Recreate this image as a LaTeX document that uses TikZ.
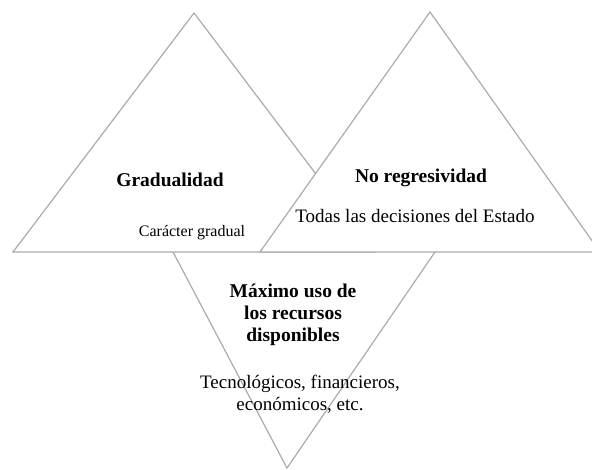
\documentclass[tikz,border=0pt]{standalone}
\usepackage{fontspec}
\setmainfont{Liberation Serif}
\definecolor{edgegray}{HTML}{ABABAB}
\tikzset{
  tri/.style={draw=edgegray,line width=1.2pt,line join=miter},
  headtext/.style={font=\bfseries\fontsize{19.5}{22}\selectfont},
  bodytext/.style={font=\fontsize{19}{22}\selectfont},
  smalltext/.style={font=\fontsize{16}{19}\selectfont}
}
\begin{document}
\begin{tikzpicture}[x=1pt,y=-1pt]
  \useasboundingbox (0,0) rectangle (592,470);

  % corners of the three triangles
  \coordinate (l1) at (13,252);
  \coordinate (l2) at (194,13);
  \coordinate (l3) at (375,252);
  \coordinate (r1) at (260,252);
  \coordinate (r2) at (430,12);
  \coordinate (r3) at (600,252);
  \coordinate (d1) at (173,252);
  \coordinate (d2) at (287,468);
  \coordinate (d3) at (435,252);

  \draw[tri] (l1) -- (l2) -- (l3) -- cycle;
  \draw[tri,fill=white] (r1) -- (r2) -- (r3) -- cycle;
  \draw[tri] (d1) -- (d2) -- (d3);

  \begin{scope}[every node/.style={align=center,inner sep=0pt,text=black}]
    \node[headtext,anchor=base]  (grad)      at (170,187) {Gradualidad};
    \node[smalltext,anchor=base] (gradtxt)   at (192,237) {Carácter gradual};
    \node[headtext,anchor=base]  (noreg)     at (421,183) {No regresividad};
    \node[bodytext,anchor=base]  (noregtxt)  at (415,223) {Todas las decisiones del Estado};
    \node[headtext]              (maxuso)    at (293,315) {Máximo uso de\\los recursos\\disponibles};
    \node[bodytext]              (maxusotxt) at (300,394) {Tecnológicos, financieros,\\económicos, etc.};
  \end{scope}

\end{tikzpicture}
\end{document}
